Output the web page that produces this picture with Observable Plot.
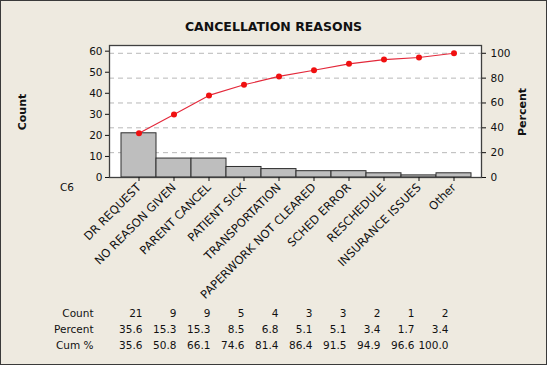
<!DOCTYPE html>
<html><head><meta charset="utf-8">
<script src="https://cdn.jsdelivr.net/npm/d3@7"></script>
<script src="https://cdn.jsdelivr.net/npm/@observablehq/plot@0.6"></script>
<style>
html,body{margin:0;padding:0;}
#wrap{position:relative;width:545px;height:363px;background:#EEEAE0;border:1px solid #3a3a3a;overflow:hidden;font-family:"DejaVu Sans",sans-serif;color:#111;}
.abs{position:absolute;}
#title{left:0;width:545px;top:18px;text-align:center;font-weight:bold;font-size:12.5px;}
.ylab{font-weight:bold;font-size:11px;transform:translate(-50%,-50%) rotate(-90deg);white-space:nowrap;}
#c6{left:59px;top:180px;font-size:10.5px;}
#err{position:absolute;left:5px;top:200px;color:red;font-size:10px;white-space:pre-wrap;width:530px;}
</style></head>
<body><div id="wrap">
<div id="main" class="abs" style="left:-1px;top:-1px;width:547px;height:300px;"></div>
<div id="table" class="abs" style="left:-1px;top:292px;width:547px;height:65px;"></div>
<div id="title" class="abs">CANCELLATION REASONS</div>
<div class="abs ylab" style="left:21px;top:111px;">Count</div>
<div class="abs ylab" style="left:521px;top:111px;">Percent</div>
<div id="c6" class="abs">C6</div>
<div id="err"></div>
</div>
<script>
const categories = ["DR REQUEST","NO REASON GIVEN","PARENT CANCEL","PATIENT SICK","TRANSPORTATION","PAPERWORK NOT CLEARED","SCHED ERROR","RESCHEDULE","INSURANCE ISSUES","Other"];
const counts = [21,9,9,5,4,3,3,2,1,2];
const percents = [35.6,15.3,15.3,8.5,6.8,5.1,5.1,3.4,1.7,3.4];
const cumPercents = [35.6,50.8,66.1,74.6,81.4,86.4,91.5,94.9,96.6,100.0];
const countTicks = [0,10,20,30,40,50,60];
const percentTicks = [0,20,40,60,80,100];
const rowLabels = ["Count","Percent","Cum %"];

try {
const total = d3.sum(counts);
const pct2count = p => p * total / 100;
const bars = categories.map((c,i)=>({cat:c, count:counts[i]}));
const cum = categories.map((c,i)=>({cat:c, y:pct2count(cumPercents[i])}));

const font = "DejaVu Sans, sans-serif";
const main = Plot.plot({
  width: 547, height: 300,
  marginLeft: 109, marginRight: 66, marginTop: 45, marginBottom: 123,
  style: {fontFamily: font, fontSize: "10.5px", color: "#111", background: "transparent", overflow: "visible"},
  x: {type: "band", domain: categories, padding: 0, insetLeft: 9, insetRight: 8},
  y: {domain: [0, 62.7]},
  marks: [
    Plot.frame({fill: "white"}),
    Plot.gridY(percentTicks.filter(p=>p>0).map(pct2count), {stroke: "#b8b8b8", strokeOpacity: 1, strokeDasharray: "5,4"}),
    Plot.barY(bars, {x: "cat", y: "count", fill: "#BEBEBE", stroke: "#2e2e2e", strokeWidth: 1}),
    Plot.line(cum, {x: "cat", y: "y", stroke: "#E3283A", strokeWidth: 1.1}),
    Plot.dot(cum, {x: "cat", y: "y", r: 3, fill: "#F01010", stroke: "none"}),
    Plot.frame({stroke: "#404040", strokeWidth: 1.3}),
    Plot.axisY(countTicks, {anchor: "left", tickSize: 4, tickPadding: 3, label: null, fontSize: 10.5}),
    Plot.axisY(percentTicks.map(pct2count), {anchor: "right", tickSize: 4, tickPadding: 5, label: null, fontSize: 10.5, tickFormat: d => Math.round(d * 100 / total)}),
    Plot.axisX({anchor: "bottom", tickSize: 4, tickPadding: 4, tickRotate: -45, label: null, fontSize: 11.5})
  ]
});
document.getElementById("main").appendChild(main);

const cells = [];
categories.forEach((c,i)=>{
  cells.push({cat:c, row:"Count", v:String(counts[i])});
  cells.push({cat:c, row:"Percent", v:percents[i].toFixed(1)});
  cells.push({cat:c, row:"Cum %", v:cumPercents[i].toFixed(1)});
});
const table = Plot.plot({
  width: 547, height: 65,
  marginLeft: 94, marginRight: 0, marginTop: 0, marginBottom: 0,
  style: {fontFamily: font, fontSize: "10.5px", color: "#111", background: "transparent", overflow: "visible"},
  x: {type: "point", domain: categories, range: [142, 448], padding: 0, axis: null},
  y: {type: "point", domain: rowLabels, range: [20, 52], padding: 0},
  marks: [
    Plot.axisY({anchor: "left", tickSize: 0, tickPadding: 1, label: null, fontSize: 10.5}),
    Plot.text(cells, {x: "cat", y: "row", text: "v", textAnchor: "end", fontSize: 10.5, fill: "#111"})
  ]
});
document.getElementById("table").appendChild(table);
} catch (e) { document.getElementById("err").textContent = String(e && e.stack || e); }
</script>
</body></html>
